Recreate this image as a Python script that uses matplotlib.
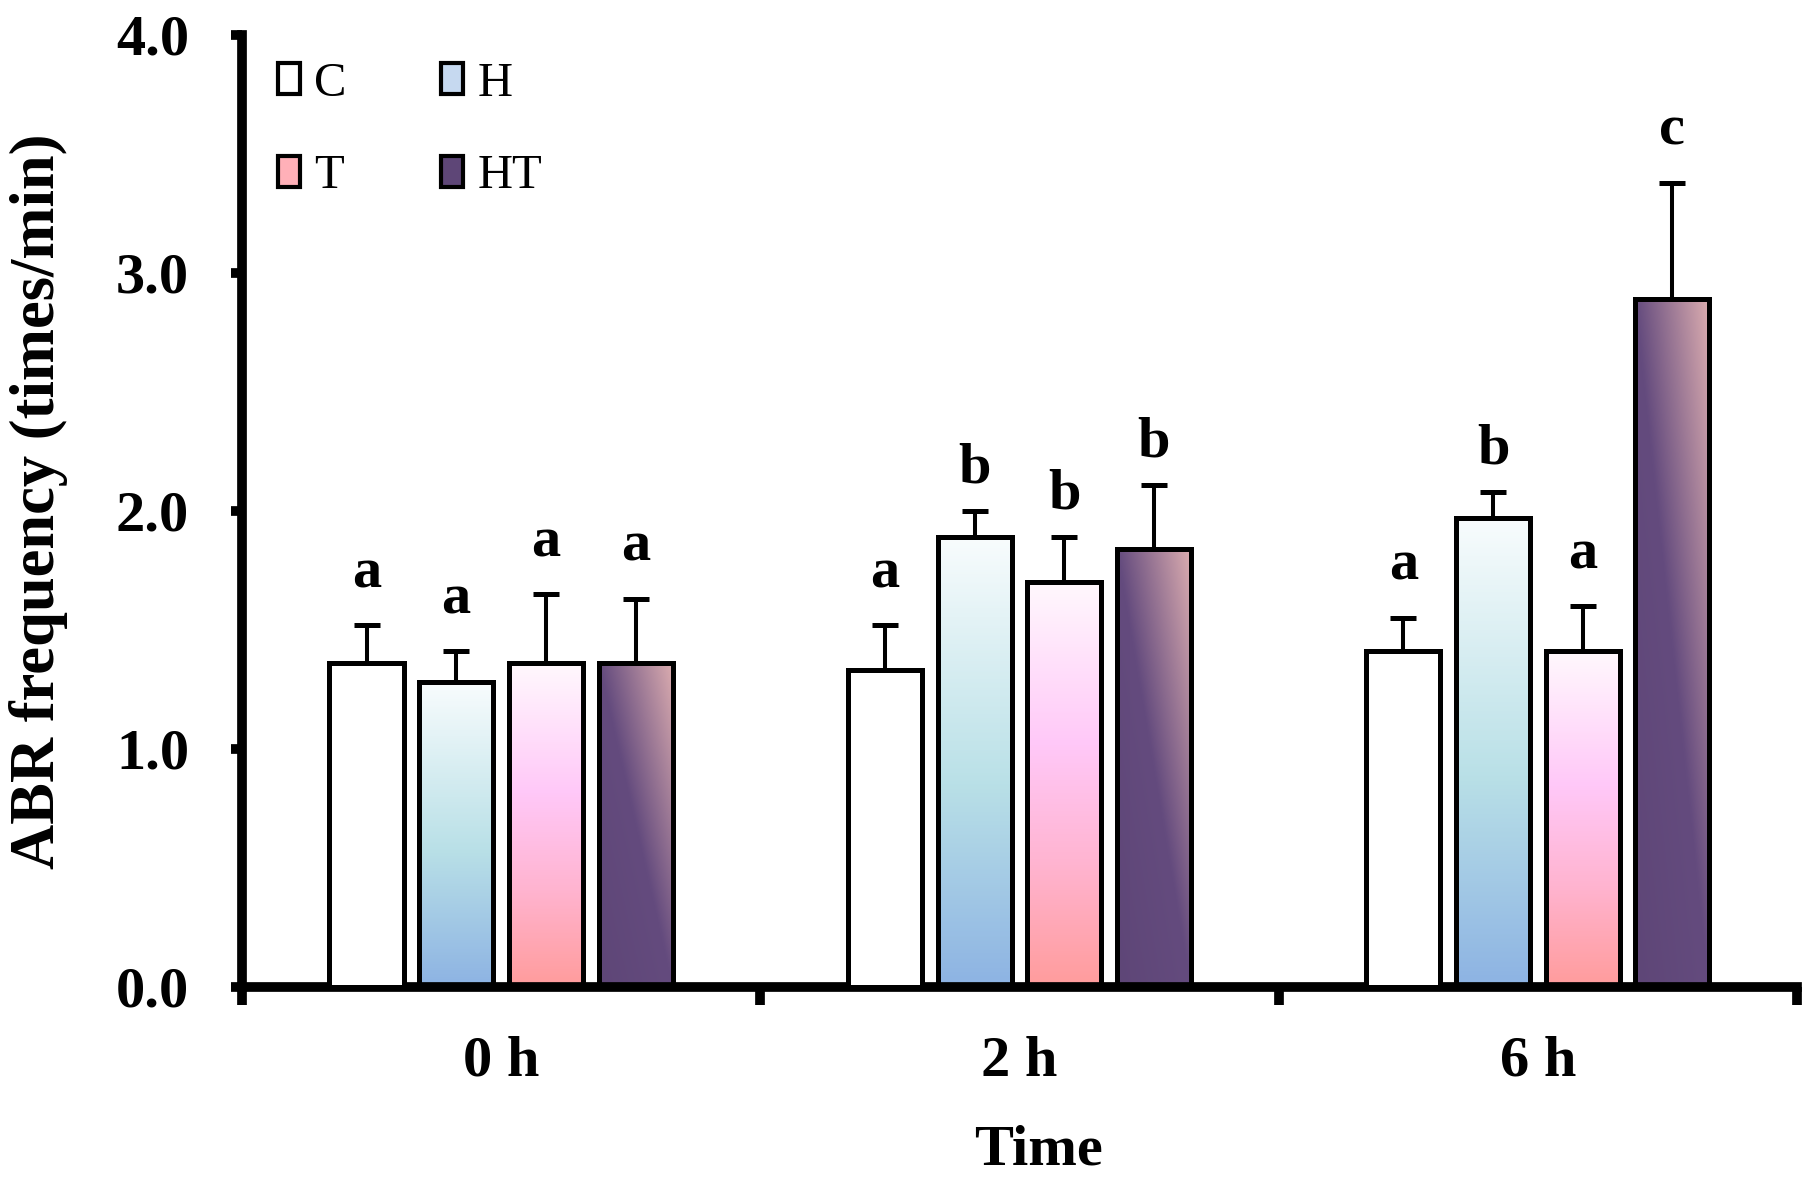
import numpy as np
import matplotlib
matplotlib.use("Agg")
import matplotlib.pyplot as plt
from matplotlib.colors import LinearSegmentedColormap
from matplotlib.patches import Patch

# time points and treatment groups
times = ["0 h", "2 h", "6 h"]
groups = ["C", "H", "T", "HT"]

# mean ABR frequency (times/min)
c_mean = [1.36, 1.33, 1.41]
h_mean = [1.28, 1.89, 1.97]
t_mean = [1.36, 1.70, 1.41]
ht_mean = [1.36, 1.84, 2.89]

# upper error bars (SD)
c_err = [0.16, 0.19, 0.14]
h_err = [0.13, 0.11, 0.11]
t_err = [0.29, 0.19, 0.19]
ht_err = [0.27, 0.27, 0.49]

# significance letters
c_sig = ["a", "a", "a"]
h_sig = ["a", "b", "b"]
t_sig = ["a", "b", "a"]
ht_sig = ["a", "b", "c"]

yticks = [0.0, 1.0, 2.0, 3.0, 4.0]

SERIF = "Liberation Serif"

# gradient colour maps, roughly the excel style fills
cmap_h = LinearSegmentedColormap.from_list(
    "h", [(0.0, "#8db3e3"), (0.45, "#b9e0e7"), (1.0, "#f8fcfd")])
cmap_t = LinearSegmentedColormap.from_list(
    "t", [(0.0, "#ff9c9c"), (0.3, "#ffb4d0"), (0.6, "#ffc8f8"), (1.0, "#fff8fd")])
cmap_ht = LinearSegmentedColormap.from_list(
    "ht", [(0.0, "#5e4677"), (0.5, "#644b7e"), (1.0, "#dcadb0")])


def gradient_fill(ax, rect, cmap, mode):
    x, y = rect.get_x(), rect.get_y()
    w, h = rect.get_width(), rect.get_height()
    u, v = np.meshgrid(np.linspace(0, 1, 80), np.linspace(0, 1, 300))
    if mode == "vertical":
        s = v
    else:
        s = (u + v) / 2
    img = ax.imshow(s, cmap=cmap, vmin=0, vmax=1, extent=[x, x + w, y, y + h],
                    origin="lower", aspect="auto", interpolation="bilinear", zorder=2)
    img.set_clip_path(rect)


fig = plt.figure(figsize=(18.05, 11.81), dpi=100)
ax = fig.add_axes([0.134, 0.1643, 0.8616, 0.8061])

x = np.arange(len(times))
width = 0.143
step = 0.173

series = [
    (c_mean, c_err, c_sig, None, None),
    (h_mean, h_err, h_sig, cmap_h, "vertical"),
    (t_mean, t_err, t_sig, cmap_t, "vertical"),
    (ht_mean, ht_err, ht_sig, cmap_ht, "diagonal"),
]
# letters sit a bit above the error cap
letter_gap = {"a": 0.16, "b": 0.12, "c": 0.16}

for i, (mean, err, sig, cmap, mode) in enumerate(series):
    pos = x + (i - 1.5) * step
    bars = ax.bar(pos, mean, width=width, facecolor="white" if cmap is None else "none",
                  edgecolor="black", linewidth=3.6, zorder=3)
    if cmap is not None:
        for rect in bars:
            gradient_fill(ax, rect, cmap, mode)
    ax.errorbar(pos, mean, yerr=[np.zeros(len(err)), err], fmt="none", ecolor="black",
                elinewidth=2.9, capsize=9.7, capthick=3.6, zorder=2.5)
    for px, m, e, s in zip(pos, mean, err, sig):
        ax.text(px, m + e + letter_gap[s], s, ha="center", va="baseline",
                fontsize=42, fontweight="bold", family=SERIF)

ax.set_xlim(-0.5, 2.5)
ax.set_ylim(0, 4)

for side in ["top", "right"]:
    ax.spines[side].set_visible(False)
for side in ["left", "bottom"]:
    ax.spines[side].set_linewidth(7)

ax.set_yticks(yticks)
ax.set_yticklabels([f"{t:.1f}" for t in yticks])
ax.tick_params(axis="y", direction="out", length=8, width=7, pad=30, labelsize=42)

ax.set_xticks([-0.5, 0.5, 1.5, 2.5])
ax.set_xticklabels([])
ax.set_xticks(x, minor=True)
ax.set_xticklabels(times, minor=True)
ax.tick_params(axis="x", which="major", direction="out", length=13, width=7)
ax.tick_params(axis="x", which="minor", length=0, pad=35, labelsize=42)

for lab in ax.get_yticklabels() + ax.get_xticklabels(minor=True):
    lab.set_family(SERIF)
    lab.set_fontweight("bold")

ax.set_ylabel("ABR frequency (times/min)", fontsize=45, fontweight="bold",
              family=SERIF, va="center")
ax.yaxis.set_label_coords(-0.131, 0.51)
ax.set_xlabel("Time", fontsize=42, fontweight="bold", family=SERIF, va="center")
ax.xaxis.set_label_coords(0.512, -0.172)

handles = [
    Patch(facecolor="white", edgecolor="black", linewidth=3, label="C"),
    Patch(facecolor="#ffb0b8", edgecolor="black", linewidth=3, label="T"),
    Patch(facecolor="#c6d9f0", edgecolor="black", linewidth=3, label="H"),
    Patch(facecolor="#5e4677", edgecolor="black", linewidth=3, label="HT"),
]
ax.legend(handles=handles, ncol=2, frameon=False, loc="upper left",
          bbox_to_anchor=(0.023, 0.972), prop={"family": SERIF, "size": 35},
          handlelength=0.45, handleheight=0.6, handletextpad=0.3,
          columnspacing=1.95, labelspacing=1.0, borderaxespad=0, borderpad=0)

fig.savefig("out.png", dpi=100)
